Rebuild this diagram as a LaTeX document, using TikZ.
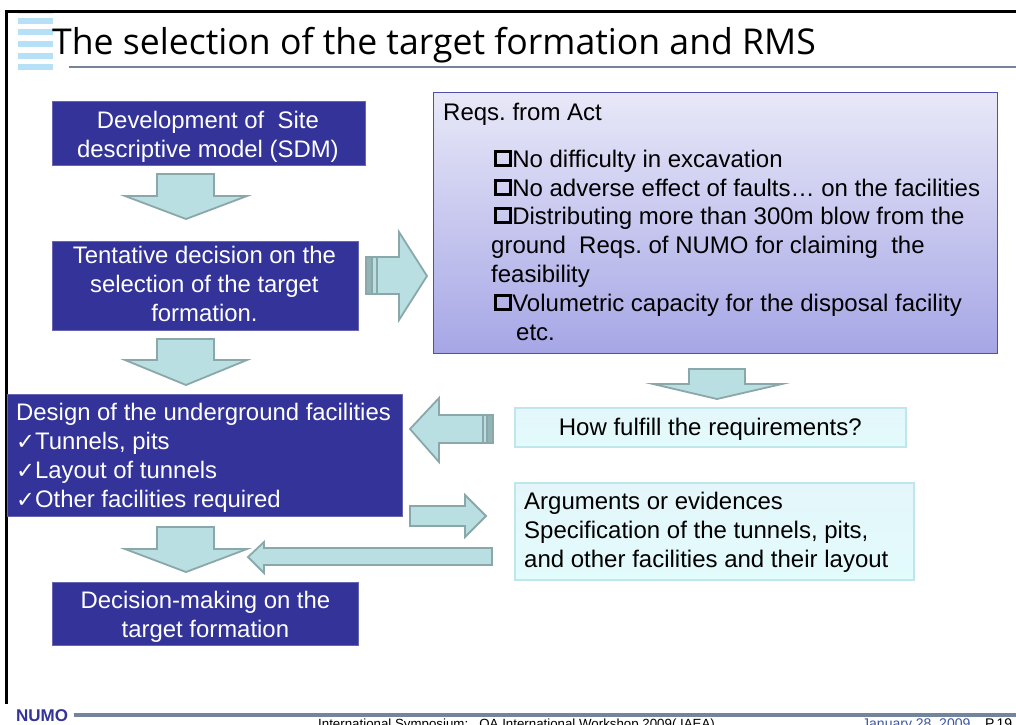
\documentclass[tikz,border=0pt]{standalone}
\usepackage{fontspec}
\setmainfont{Liberation Sans}
\newfontfamily\titlefont{Open Sans}
\newfontfamily\symfont{DejaVu Sans}
\frenchspacing
\definecolor{navy}{HTML}{333399}
\definecolor{arrfill}{HTML}{B9DFE2}
\definecolor{arrline}{HTML}{8AA8A9}
\definecolor{arrdark}{HTML}{93B4B5}
\definecolor{reqline}{HTML}{4F4FB0}
\definecolor{reqtop}{HTML}{E8E8F8}
\definecolor{reqbot}{HTML}{A6A6E6}
\definecolor{cyanline}{HTML}{BFE6EA}
\definecolor{cyantop}{HTML}{E4F6FA}
\definecolor{cyanbot}{HTML}{E2FBFB}
\definecolor{stripe}{HTML}{B5E0F5}
\definecolor{rulegrey}{HTML}{74859B}
\definecolor{datecol}{HTML}{3A55A5}
\tikzset{
 x=1pt,y=-1pt,
 txt/.style={font=\fontsize{23.9}{29}\selectfont,align=center,text=white,inner sep=0pt},
 dark/.style={font=\fontsize{24}{29}\selectfont,inner sep=0pt},
 navybox/.style={fill=navy,draw=navy!75!white,line width=.8pt,inner sep=0pt,anchor=north west},
 blockarrow/.style={fill=arrfill,draw=arrline,line width=1.8pt,line join=miter},
 tail/.style={fill=arrdark,draw=arrline,line width=1.2pt},
 tailb/.style={fill=arrfill,draw=arrline,line width=1.2pt},
 cyanbox/.style={top color=cyantop,bottom color=cyanbot,draw=cyanline,line width=1.6pt,inner sep=0pt,anchor=north west},
 rl/.style={anchor=base west,dark},
}
\newcommand{\chk}{{\symfont\fontsize{22.5}{24}\selectfont ✓}}
\newcommand{\bx}{\raisebox{2.6pt}{\setlength{\fboxsep}{0pt}\setlength{\fboxrule}{3pt}\fbox{\rule{0pt}{11.5pt}\rule{11.5pt}{0pt}}}\hspace{0.6pt}}
\begin{document}
\begin{tikzpicture}
\useasboundingbox (0,0) rectangle (1016,724);
\clip (0,0) rectangle (1016,724);
\fill[white] (0,0) rectangle (1016,724);
% frame
\draw[black,line width=3pt] (6.5,704) -- (6.5,11) -- (1016,11);
% stripes
\foreach \y in {17.5,29,41,52.5,64}{\fill[stripe] (18,\y) rectangle (53,\y+6);}
\fill[stripe!50] (18,12.5) rectangle (53,14);
\node[anchor=base west,inner sep=0pt,font=\titlefont\fontsize{35.6}{40}\selectfont] (title) at (52,54) {The selection of the target formation and RMS};
\draw[rulegrey,line width=1.8pt] (69,67) -- (1016,67);
% navy boxes
\node[navybox,minimum width=313,minimum height=64] (b1) at (52,101) {};
\node[txt] (b1t) at ([xshift=-1pt,yshift=-3.5pt]b1.center) {Development of\ \ Site\\descriptive model (SDM)};
\node[navybox,minimum width=306,minimum height=89] (b2) at (52,241) {};
\node[txt] (b2t) at ([xshift=-1pt,yshift=1.5pt]b2.center) {Tentative decision on the\\selection of the target\\formation.};
\node[navybox,minimum width=395,minimum height=122] (b3) at (7,394) {};
\node[anchor=north west,txt,align=left] (b3t) at (16,402.5) {Design of the underground facilities\\\chk Tunnels, pits\\\chk Layout of tunnels\\\chk Other facilities required};
\node[navybox,minimum width=306,minimum height=63] (b4) at (52,582) {};
\node[txt] (b4t) at ([yshift=-2.5pt]b4.center) {Decision-making on the\\target formation};
% req box
\node[minimum width=564,minimum height=261,anchor=north west,inner sep=0pt,top color=reqtop,bottom color=reqbot,draw=reqline,line width=1pt] (req) at (433,92) {};
\node[rl] (r0) at (443,120) {Reqs. from Act};
\node[rl] (r1) at (494,167) {\bx No difficulty in excavation};
\node[rl] (r2) at (494,196) {\bx No adverse effect of faults… on the facilities};
\node[rl] (r3) at (494,224) {\bx Distributing more than 300m blow from the};
\node[rl] (r4) at (491,253) {ground\ \ Reqs.\ of NUMO for claiming\ \ the};
\node[rl] (r5) at (491,282) {feasibility};
\node[rl] (r6) at (494,311) {\bx Volumetric capacity for the disposal facility};
\node[rl] (r7) at (516,340) {etc.};
% cyan boxes
\node[cyanbox,minimum width=391,minimum height=39] (how) at (514,407) {};
\node[dark] (howt) at ([yshift=-2pt]how.center) {How fulfill the requirements?};
\node[cyanbox,minimum width=399,minimum height=97] (arg) at (514,482) {};
\node[anchor=north west,align=left,dark] (argt) at (524,492) {Arguments or evidences\\Specification of the tunnels, pits,\\and other facilities and their layout};
% down arrows
\draw[blockarrow] (157,174) -- (214,174) -- (214,196) -- (247,196) -- (186,219) -- (125,196) -- (157,196) -- cycle;
\draw[blockarrow] (157,339) -- (214,339) -- (214,360) -- (247,360) -- (186,385) -- (125,360) -- (157,360) -- cycle;
\draw[blockarrow] (157,527) -- (214,527) -- (214,549) -- (247,549) -- (186,572) -- (125,549) -- (157,549) -- cycle;
\draw[blockarrow] (689,369) -- (745,369) -- (745,384) -- (782,384) -- (717,399) -- (653,384) -- (689,384) -- cycle;
% right arrow
\draw[blockarrow] (366,257) -- (399,257) -- (399,232) -- (427,276) -- (399,320) -- (399,294) -- (366,294) -- cycle;
\draw[tail] (366,257) rectangle (372,294);
\draw[tailb] (372,257) rectangle (377,294);
% left arrow
\draw[blockarrow] (493,415) -- (439,415) -- (439,398) -- (410,429) -- (439,462) -- (439,443) -- (493,443) -- cycle;
\draw[tailb] (483,415) rectangle (487,443);
\draw[tail] (487,415) rectangle (493,443);
% small right
\draw[blockarrow] (410,506) -- (465,506) -- (465,495) -- (486,516) -- (465,537) -- (465,526) -- (410,526) -- cycle;
% long left
\draw[blockarrow] (492,548) -- (264,548) -- (264,542) -- (248,557) -- (264,573) -- (264,565) -- (492,565) -- cycle;
% footer
\node[anchor=base west,inner sep=0pt,font=\bfseries\fontsize{17}{17}\selectfont,text=navy] (logo) at (16,721) {NUMO};
\draw[rulegrey,line width=3.6pt] (74,715) -- (1016,715);
\node[anchor=base west,inner sep=0pt,font=\fontsize{13.3}{14}\selectfont] (ft) at (318,728) {International Symposium:\ \ \ QA International Workshop 2009( IAEA)};
\node[anchor=base west,inner sep=0pt,font=\fontsize{14}{14}\selectfont,text=datecol] (dt) at (862,728) {January 28, 2009};
\node[anchor=base west,inner sep=0pt,font=\fontsize{14}{14}\selectfont] (pg) at (985,728) {P.19};
\end{tikzpicture}
\end{document}
